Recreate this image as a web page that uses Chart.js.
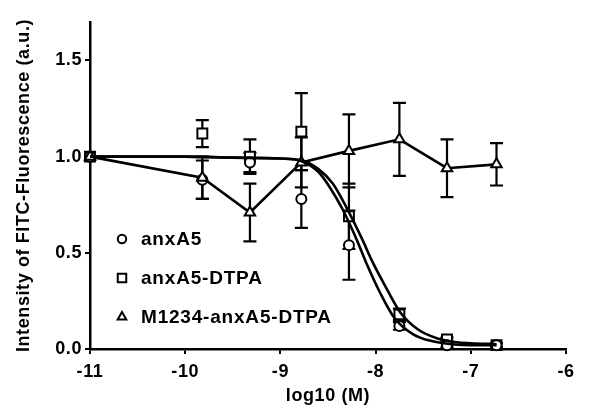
<!DOCTYPE html>
<html>
<head>
<meta charset="utf-8">
<script src="https://cdn.jsdelivr.net/npm/chart.js@4/dist/chart.umd.min.js"></script>
<style>
  html, body { margin: 0; padding: 0; background: #fff; }
  #wrap { width: 600px; height: 417px; }
</style>
</head>
<body>
<div id="wrap"><canvas id="chart" width="600" height="417"></canvas></div>
<script>
// log10 concentration of each measurement
const logConc = [-11, -9.82, -9.32, -8.78, -8.28, -7.75, -7.25, -6.73];

const anxA5 = [1.0, 0.88, 0.97, 0.78, 0.54, 0.12, 0.02, 0.02];
const anxA5Err = [0, 0.10, 0.05, 0.15, 0.18, 0.02, 0.01, 0.01];
const anxA5Dtpa = [1.0, 1.12, 1.0, 1.13, 0.69, 0.18, 0.05, 0.02];
const anxA5DtpaErr = [0, 0.07, 0.09, 0.20, 0.17, 0.03, 0.01, 0.01];
const m1234 = [1.0, 0.89, 0.71, 0.97, 1.03, 1.09, 0.94, 0.96];
const m1234Err = [0, 0.11, 0.15, 0.13, 0.19, 0.19, 0.15, 0.11];

// fitted curves
const fitA5X = [-11, -10, -9.5, -9, -8.77, -8.6, -8.48, -8.34, -8.2, -8.1, -7.95, -7.8, -7.6, -7.4, -7.2, -7, -6.73];
const fitA5Y = [1.0, 1.0, 0.995, 0.99, 0.975, 0.92, 0.84, 0.72, 0.57, 0.45, 0.29, 0.16, 0.075, 0.04, 0.025, 0.02, 0.02];
const fitDtpaX = [-11, -10, -9.5, -9, -8.77, -8.6, -8.45, -8.3, -8.14, -8.03, -7.88, -7.74, -7.55, -7.35, -7.15, -7, -6.73];
const fitDtpaY = [1.0, 1.0, 0.995, 0.99, 0.98, 0.935, 0.86, 0.73, 0.57, 0.45, 0.31, 0.19, 0.1, 0.055, 0.035, 0.03, 0.025];

const xTicks = [-11, -10, -9, -8, -7, -6];
const yTicks = [0, 0.5, 1.0, 1.5];

const legendNames = ["anxA5", "anxA5-DTPA", "M1234-anxA5-DTPA"];

const FONT = "'Liberation Sans', Arial, Helvetica, sans-serif";

function pts(xs, ys) {
    return xs.map((x, i) => ({ x: x, y: ys[i] }));
}

// wider lettering, closer to the heavy font of the original
const spacing = {
    id: "spacing",
    beforeDraw(chart) { chart.ctx.letterSpacing = "0.6px"; }
};

// error bars drawn through the chart's own scales
const errorBars = {
    id: "errorBars",
    beforeDatasetsDraw(chart) {
        const ctx = chart.ctx;
        const xs = chart.scales.x, ys = chart.scales.y;
        ctx.save();
        ctx.strokeStyle = "#000";
        ctx.lineWidth = 2.2;
        chart.data.datasets.forEach(ds => {
            if (!ds.errors) return;
            ds.data.forEach((p, i) => {
                const e = ds.errors[i];
                if (!e) return;
                const px = xs.getPixelForValue(p.x);
                const top = ys.getPixelForValue(p.y + e);
                const bot = ys.getPixelForValue(p.y - e);
                ctx.beginPath();
                ctx.moveTo(px, top); ctx.lineTo(px, bot);
                ctx.moveTo(px - 6.5, top); ctx.lineTo(px + 6.5, top);
                ctx.moveTo(px - 6.5, bot); ctx.lineTo(px + 6.5, bot);
                ctx.stroke();
            });
        });
        ctx.restore();
    }
};

// legend sitting inside the plot, lower left
const insideLegend = {
    id: "insideLegend",
    afterDraw(chart) {
        const ctx = chart.ctx;
        const styles = [["circle", 4.2], ["rect", 6], ["triangle", 5]];
        const rows = [239, 278, 317];
        ctx.save();
        ctx.letterSpacing = "0.8px";
        ctx.font = "bold 19px " + FONT;
        ctx.textBaseline = "middle";
        legendNames.forEach((name, i) => {
            ctx.strokeStyle = "#000";
            ctx.fillStyle = "#fff";
            ctx.lineWidth = 2;
            Chart.helpers.drawPoint(ctx, { pointStyle: styles[i][0], radius: styles[i][1], borderWidth: 2, rotation: 0 }, 122, rows[i]);
            ctx.fillStyle = "#000";
            ctx.fillText(name, 141, rows[i] + 1);
        });
        ctx.restore();
    }
};

const markerBase = {
    showLine: false,
    borderColor: "#000",
    backgroundColor: "#fff",
    pointBorderWidth: 2,
    clip: false
};

new Chart(document.getElementById("chart"), {
    type: "scatter",
    data: {
        datasets: [
            {
                data: pts(fitA5X, fitA5Y), showLine: true, pointRadius: 0,
                borderColor: "#000", borderWidth: 2.6, cubicInterpolationMode: "monotone"
            },
            {
                data: pts(fitDtpaX, fitDtpaY), showLine: true, pointRadius: 0,
                borderColor: "#000", borderWidth: 2.6, cubicInterpolationMode: "monotone"
            },
            Object.assign({}, markerBase, {
                label: legendNames[2], data: pts(logConc, m1234), errors: m1234Err,
                showLine: true, borderWidth: 2.6, pointStyle: "triangle", pointRadius: 6
            }),
            Object.assign({}, markerBase, {
                label: legendNames[0], data: pts(logConc, anxA5), errors: anxA5Err,
                pointStyle: "circle", pointRadius: 5
            }),
            Object.assign({}, markerBase, {
                label: legendNames[1], data: pts(logConc, anxA5Dtpa), errors: anxA5DtpaErr,
                pointStyle: "rect", pointRadius: 7
            })
        ]
    },
    options: {
        responsive: false,
        animation: false,
        layout: { padding: { left: 0, right: 34, top: 22, bottom: 0 } },
        plugins: {
            legend: { display: false },
            tooltip: { enabled: false }
        },
        scales: {
            x: {
                type: "linear",
                min: -11, max: -6,
                afterBuildTicks: s => { s.ticks = xTicks.map(v => ({ value: v })); },
                afterFit: s => { s.height = 68; },
                grid: { drawOnChartArea: false, color: "#000", lineWidth: 2, tickLength: 5 },
                border: { color: "#000", width: 2.5 },
                ticks: {
                    color: "#000", padding: 7, maxRotation: 0,
                    font: { family: FONT, size: 18, weight: "bold" },
                    callback: v => String(v)
                },
                title: {
                    display: true, text: "log10 (M)", color: "#000",
                    font: { family: FONT, size: 18, weight: "bold" },
                    padding: { top: 0, bottom: 10 }
                }
            },
            y: {
                min: 0, max: 1.7,
                afterBuildTicks: s => { s.ticks = yTicks.map(v => ({ value: v })); },
                afterFit: s => { s.width = 90; },
                grid: { drawOnChartArea: false, color: "#000", lineWidth: 2, tickLength: 5 },
                border: { color: "#000", width: 2.5 },
                ticks: {
                    color: "#000", padding: 3,
                    font: { family: FONT, size: 18, weight: "bold" },
                    callback: v => Number(v).toFixed(1)
                },
                title: {
                    display: true, text: "Intensity of FITC-Fluorescence (a.u.)", color: "#000",
                    font: { family: FONT, size: 18, weight: "bold" },
                    padding: { top: 13, bottom: 0 }
                }
            }
        }
    },
    plugins: [spacing, errorBars, insideLegend]
});
</script>
</body>
</html>
